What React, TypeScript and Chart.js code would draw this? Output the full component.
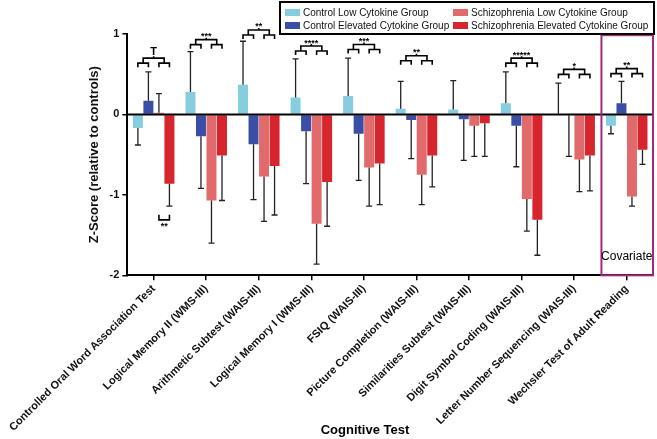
import React, { useEffect, useRef } from "react";
import { Chart, registerables } from "chart.js";
Chart.register(...registerables);

const categories = [
  "Controlled Oral Word Association Test",
  "Logical Memory II (WMS-III)",
  "Arithmetic Subtest (WAIS-III)",
  "Logical Memory I (WMS-III)",
  "FSIQ (WAIS-III)",
  "Picture Completion (WAIS-III)",
  "Similarities Subtest (WAIS-III)",
  "Digit Symbol Coding (WAIS-III)",
  "Letter Number Sequencing (WAIS-III)",
  "Wechsler Test of Adult Reading",
];

const seriesNames = [
  "Control Low Cytokine Group",
  "Control Elevated Cytokine Group",
  "Schizophrenia Low Cytokine Group",
  "Schizophrenia Elevated Cytokine Group",
];
const seriesColors = ["#86cde0", "#3b4ea5", "#e06a6c", "#d6252c"];

const controlLow = [-0.17, 0.28, 0.37, 0.21, 0.23, 0.07, 0.06, 0.14, 0.01, -0.14];
const controlLowErr = [0.21, 0.5, 0.54, 0.48, 0.47, 0.34, 0.36, 0.39, 0.38, 0.1];
const controlHigh = [0.17, -0.27, -0.37, -0.21, -0.24, -0.07, -0.06, -0.14, -0.01, 0.14];
const controlHighErr = [0.36, 0.65, 0.69, 0.65, 0.58, 0.48, 0.51, 0.51, 0.51, 0.27];
const szLow = [0.02, -1.07, -0.77, -1.36, -0.66, -0.75, -0.14, -1.05, -0.56, -1.02];
const szLowErr = [0.24, 0.53, 0.56, 0.5, 0.48, 0.37, 0.38, 0.4, 0.4, 0.12];
const szHigh = [-0.86, -0.51, -0.64, -0.84, -0.61, -0.51, -0.11, -1.31, -0.51, -0.44];
const szHighErr = [0.28, 0.56, 0.61, 0.55, 0.51, 0.39, 0.41, 0.44, 0.44, 0.18];

const sigLabels = ["T", "***", "**", "****", "***", "**", "", "*****", "*", "**"];
const sigLevels = [0.7, 0.93, 1.05, 0.85, 0.87, 0.73, null, 0.7, 0.56, 0.57];

const yTicks = [1, 0, -1, -2];
const covariateLabel = "Covariate";
const xTitle = "Cognitive Test";
const yTitle = "Z-Score (relative to controls)";

const seriesValues = [controlLow, controlHigh, szLow, szHigh];
const seriesErrs = [controlLowErr, controlHighErr, szLowErr, szHighErr];

const FONT = "'Liberation Sans', Arial, sans-serif";

const annotations = {
  id: "annotations",
  afterDatasetsDraw(chart: any) {
    const ctx = chart.ctx as CanvasRenderingContext2D;
    const ys = chart.scales.y;
    const area = chart.chartArea;
    ctx.save();
    // zero line
    ctx.strokeStyle = "#000";
    ctx.lineWidth = 2;
    const y0 = ys.getPixelForValue(0);
    ctx.beginPath();
    ctx.moveTo(area.left, y0);
    ctx.lineTo(area.right, y0);
    ctx.stroke();

    // error bars
    ctx.strokeStyle = "#222";
    ctx.lineWidth = 1.3;
    seriesValues.forEach((vals, i) => {
      const meta = chart.getDatasetMeta(i);
      vals.forEach((v, j) => {
        const el = meta.data[j];
        const dir = v >= 0 ? 1 : -1;
        const ya = ys.getPixelForValue(v);
        const yb = ys.getPixelForValue(v + dir * seriesErrs[i][j]);
        ctx.beginPath();
        ctx.moveTo(el.x, ya);
        ctx.lineTo(el.x, yb);
        ctx.moveTo(el.x - 3, yb);
        ctx.lineTo(el.x + 3, yb);
        ctx.stroke();
      });
    });

    // significance brackets
    const m = [0, 1, 2, 3].map((i) => chart.getDatasetMeta(i).data);
    ctx.strokeStyle = "#000";
    ctx.lineWidth = 1.6;
    ctx.fillStyle = "#000";
    ctx.textAlign = "center";
    sigLevels.forEach((lvl, j) => {
      if (lvl == null) return;
      const c0 = m[0][j].x, c1 = m[1][j].x, c2 = m[2][j].x, c3 = m[3][j].x;
      const top = ys.getPixelForValue(lvl);
      const low = top + 5;
      const bot = low + 4;
      const l = (c0 + c1) / 2, r = (c2 + c3) / 2;
      ctx.beginPath();
      ctx.moveTo(l, low);
      ctx.lineTo(l, top);
      ctx.lineTo(r, top);
      ctx.lineTo(r, low);
      ctx.moveTo((l + r) / 2, top);
      ctx.lineTo((l + r) / 2, top - 2);
      ctx.moveTo(c0, bot);
      ctx.lineTo(c0, low);
      ctx.lineTo(c1, low);
      ctx.lineTo(c1, bot);
      ctx.moveTo(c2, bot);
      ctx.lineTo(c2, low);
      ctx.lineTo(c3, low);
      ctx.lineTo(c3, bot);
      ctx.stroke();
      const label = sigLabels[j];
      if (label === "T") {
        ctx.font = `bold 11px ${FONT}`;
        ctx.textBaseline = "bottom";
        ctx.fillText(label, (l + r) / 2, top - 1);
      } else {
        ctx.font = `bold 9px ${FONT}`;
        ctx.textBaseline = "alphabetic";
        ctx.fillText(label, (l + r) / 2, top - 0.5);
      }
    });

    // lower bracket under first group (pink vs red)
    {
      const a = m[2][0].x, b = m[3][0].x;
      const yl = ys.getPixelForValue(-1.31);
      ctx.beginPath();
      ctx.moveTo(a, yl - 5);
      ctx.lineTo(a, yl);
      ctx.lineTo(b, yl);
      ctx.lineTo(b, yl - 5);
      ctx.stroke();
      ctx.font = `bold 9px ${FONT}`;
      ctx.textBaseline = "alphabetic";
      ctx.fillText("**", (a + b) / 2, yl + 9);
    }

    // covariate box
    {
      const xs = chart.scales.x;
      const half = (xs.getPixelForValue(1) - xs.getPixelForValue(0)) / 2;
      const cx = xs.getPixelForValue(9);
      const x1 = cx - half + 1, x2 = cx + half;
      const yt = ys.getPixelForValue(0.985);
      const yb = area.bottom;
      ctx.strokeStyle = "#a5287f";
      ctx.lineWidth = 2;
      ctx.strokeRect(x1, yt, x2 - x1, yb - yt);
      ctx.fillStyle = "#000";
      ctx.font = `12px ${FONT}`;
      ctx.textAlign = "center";
      ctx.textBaseline = "middle";
      ctx.fillText(covariateLabel, cx, ys.getPixelForValue(-1.77));
    }

    // legend
    {
      const bx = 280, by = 2, bw = 374, bh = 32;
      ctx.fillStyle = "#fff";
      ctx.fillRect(bx, by, bw, bh);
      ctx.strokeStyle = "#000";
      ctx.lineWidth = 2;
      ctx.strokeRect(bx, by, bw, bh);
      ctx.font = `10px ${FONT}`;
      ctx.textAlign = "left";
      ctx.textBaseline = "middle";
      const cols = [285, 453];
      const rows = [12.5, 25.5];
      seriesNames.forEach((name, i) => {
        const x = cols[Math.floor(i / 2)];
        const y = rows[i % 2];
        ctx.fillStyle = seriesColors[i];
        ctx.fillRect(x, y - 3.5, 15, 7);
        ctx.fillStyle = "#111";
        ctx.fillText(name, x + 18, y + 0.5);
      });
    }

    // x title
    ctx.fillStyle = "#000";
    ctx.font = `bold 13px ${FONT}`;
    ctx.textAlign = "center";
    ctx.textBaseline = "middle";
    ctx.fillText(xTitle, 365, 430);
    ctx.restore();
  },
};

export default function App() {
  const ref = useRef<HTMLCanvasElement>(null);
  useEffect(() => {
    const chart = new Chart(ref.current!, {
      type: "bar",
      data: {
        labels: categories,
        datasets: seriesNames.map((name, i) => ({
          label: name,
          data: seriesValues[i],
          backgroundColor: seriesColors[i],
          borderWidth: 0,
          categoryPercentage: 0.8,
          barPercentage: 0.95,
        })),
      },
      options: {
        animation: false,
        responsive: false,
        devicePixelRatio: 1,
        layout: { padding: { left: 83, right: 4, top: 34, bottom: 3 } },
        plugins: { legend: { display: false }, tooltip: { enabled: false } },
        scales: {
          x: {
            grid: { display: true, drawOnChartArea: false, offset: false, tickLength: 5, color: "#000", lineWidth: 1.5 },
            border: { color: "#000", width: 2 },
            ticks: {
              minRotation: 45,
              maxRotation: 45,
              autoSkip: false,
              padding: 2,
              color: "#111",
              font: { family: FONT, size: 11, weight: "bold" },
            },
          },
          y: {
            min: -2,
            max: 1,
            afterBuildTicks: (s: any) => {
              s.ticks = yTicks.map((v) => ({ value: v }));
            },
            grid: { display: true, drawOnChartArea: false, tickLength: 5, color: "#000", lineWidth: 1.5 },
            border: { color: "#000", width: 2 },
            ticks: { padding: 3, color: "#111", font: { family: FONT, size: 11, weight: "bold" } },
            title: {
              display: true,
              text: yTitle,
              color: "#111",
              font: { family: FONT, size: 13, weight: "bold" },
            },
          },
        },
      },
      plugins: [annotations],
    });
    return () => chart.destroy();
  }, []);
  return (
    <div style={{ position: "fixed", left: 0, top: 0, width: 657, height: 439, background: "#fff" }}>
      <canvas ref={ref} width={657} height={439} style={{ display: "block" }} />
    </div>
  );
}
